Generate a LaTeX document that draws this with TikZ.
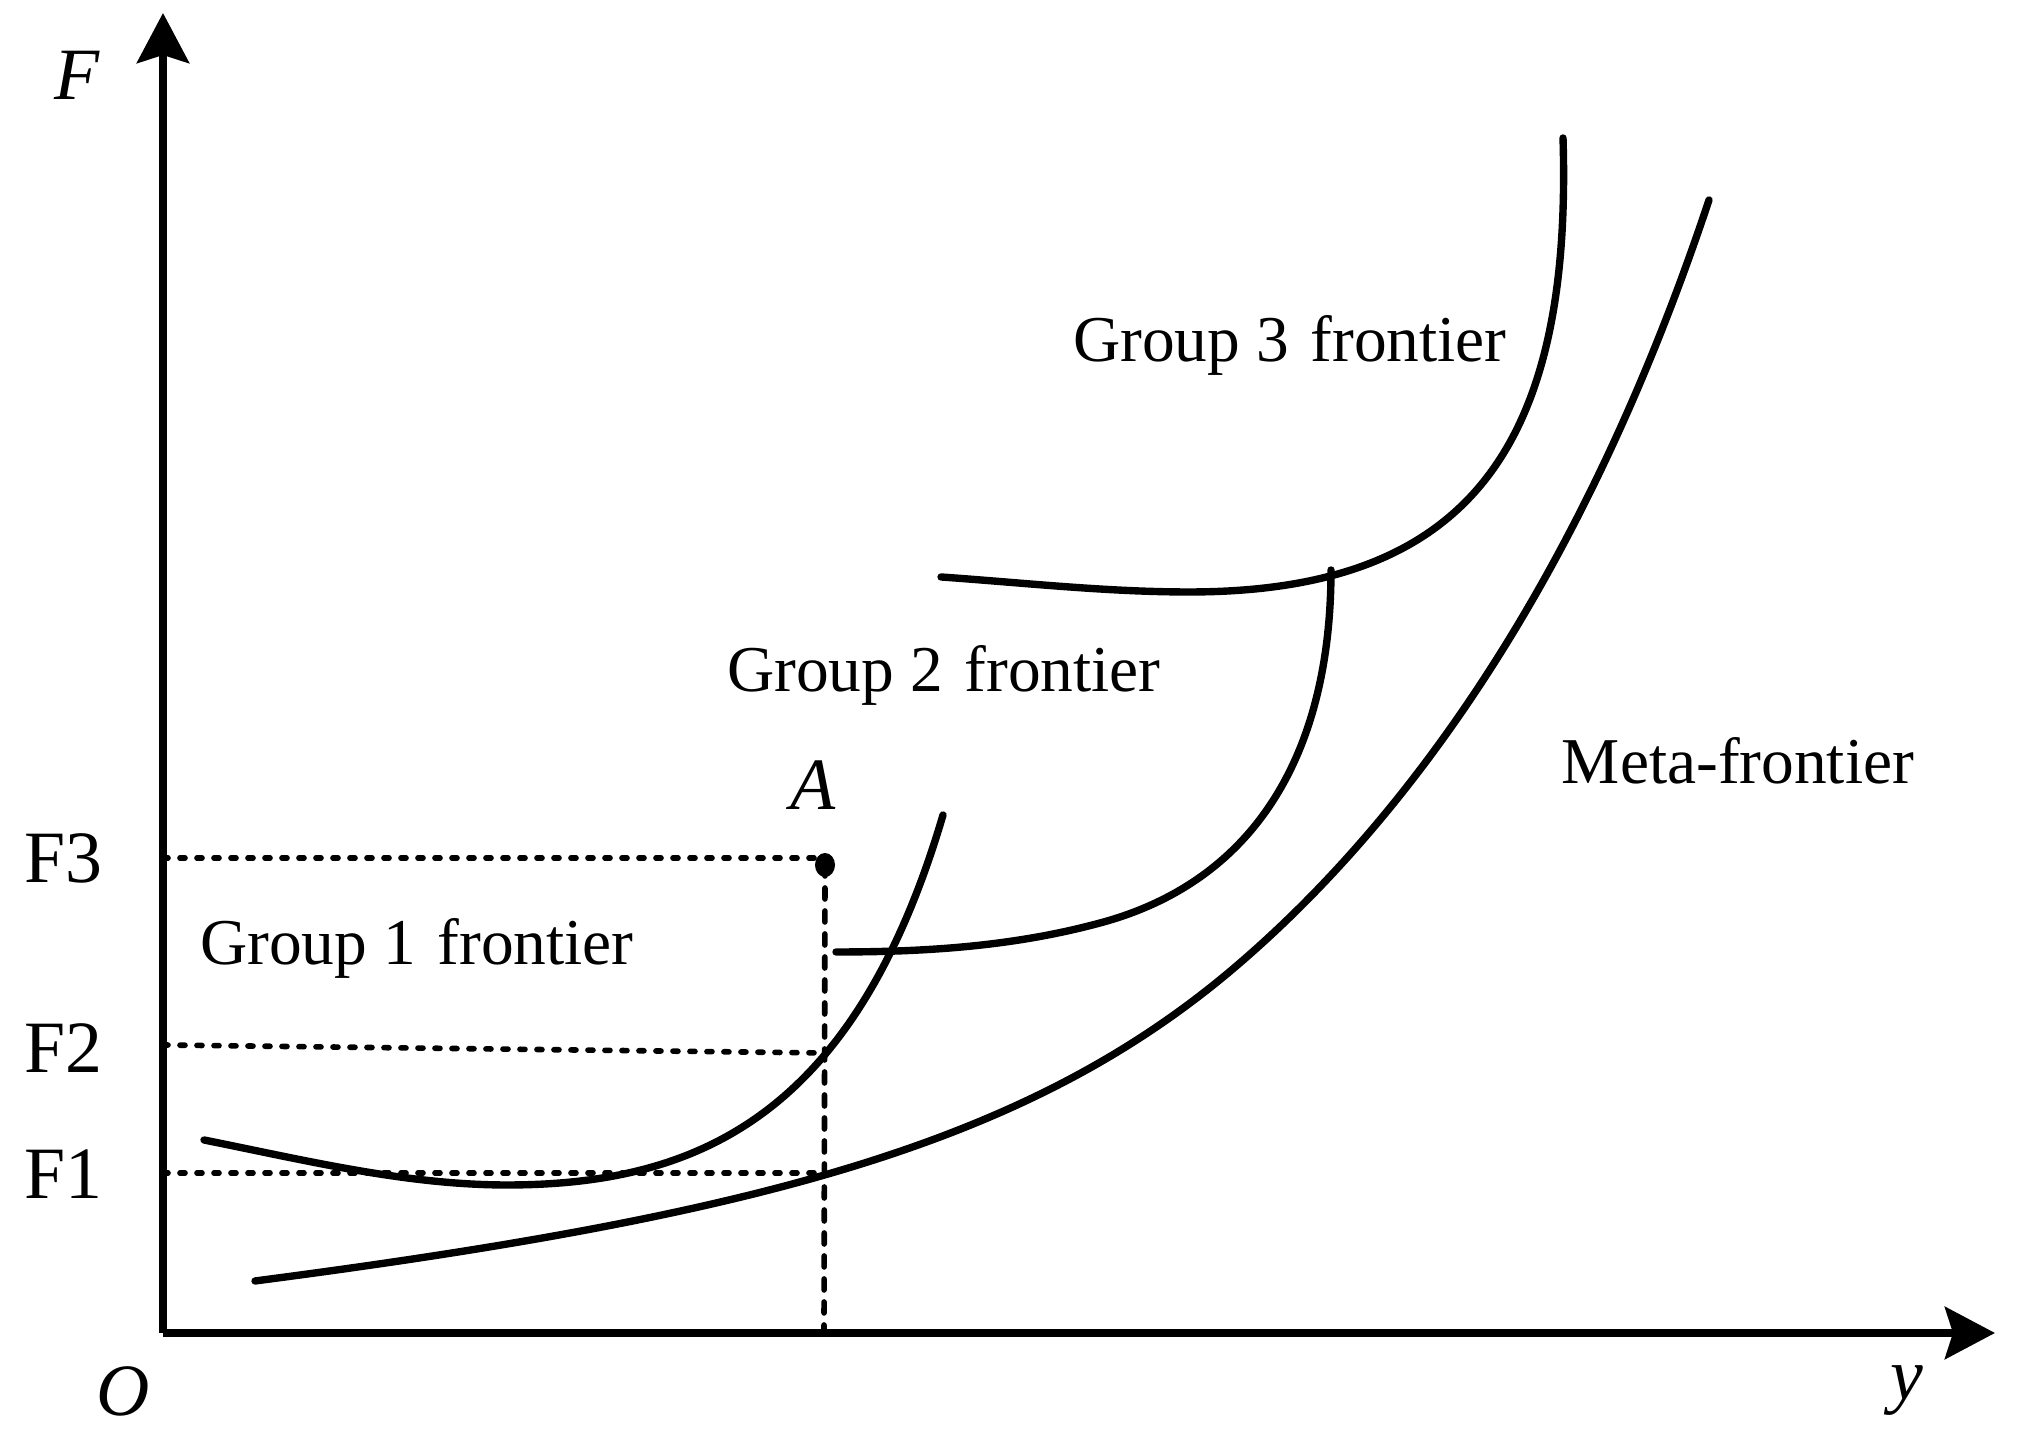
\documentclass[tikz,border=0pt]{standalone}
\usepackage{fontspec}
\setmainfont{Liberation Serif}
\usetikzlibrary{arrows.meta}
\begin{document}
\begin{tikzpicture}[
  axis/.style={line width=2.3pt, -{Stealth[length=0.5cm,width=0.52cm,inset=0.08cm]}},
  curve/.style={line width=2.1pt, line cap=round},
  dotline/.style={line width=1.6pt, line cap=round, dash pattern=on 0.05cm off 0.12cm},
  dashline/.style={line width=1.6pt, line cap=round, dash pattern=on 0.11cm off 0.12cm},
  lbl/.style={font=\fontsize{18.6}{22}\selectfont, inner sep=0pt},
  flbl/.style={font=\fontsize{21}{24}\selectfont, inner sep=0pt},
  ilbl/.style={font=\fontsize{21}{24}\selectfont\itshape, inner sep=0pt}
]
\useasboundingbox (0,0) rectangle (20.23,14.44);
% axes
\coordinate (O) at (1.63,1.11);
\coordinate (ytip) at (19.95,1.11);
\coordinate (Ftip) at (1.63,14.31);
\draw[axis] (O) -- (ytip);
\draw[axis] (O) -- (Ftip);
\node[ilbl] (Olbl) at (1.23,0.53) {O};
\node[ilbl] (ylbl) at (19.07,0.53) {y};
\node[ilbl] (Flbl) at (0.77,13.69) {F};
% point A and guide lines
\coordinate (A) at (8.25,5.79);
\coordinate (F3a) at (1.63,5.86);
\coordinate (F3b) at (8.20,5.86);
\coordinate (F2a) at (1.63,3.99);
\coordinate (F2b) at (8.24,3.91);
\coordinate (F1a) at (1.63,2.71);
\coordinate (F1b) at (8.24,2.71);
\coordinate (Ax) at (8.24,1.11);
\draw[dotline] (F3a) -- (F3b);
\draw[dotline] (F2a) -- (F2b);
\draw[dotline] (F1a) -- (F1b);
\draw[dashline] (A) -- (Ax);
\fill (A) ellipse (0.1cm and 0.12cm);
\node[ilbl] (Albl) at (8.13,6.59) {A};
\node[flbl] (F3lbl) at (0.63,5.86) {F3};
\node[flbl] (F2lbl) at (0.63,3.96) {F2};
\node[flbl] (F1lbl) at (0.63,2.70) {F1};
% meta-frontier
\draw[curve] (2.55,1.63) .. controls (7.597,2.288) and (10.276,3.008) .. (12.34,4.76)
  .. controls (13.87,6.06) and (15.738,8.376) .. (17.09,12.44);
% group 1
\draw[curve] (2.04,3.04) .. controls (3.05,2.838) and (4.06,2.59) .. (5.07,2.59)
  .. controls (7.03,2.59) and (8.558,3.33) .. (9.43,6.29);
% group 2
\draw[curve] (8.36,4.92) .. controls (9.24,4.92) and (10.12,4.972) .. (11.00,5.21)
  .. controls (12.617,5.644) and (13.31,6.994) .. (13.31,8.74);
% group 3
\draw[curve] (9.41,8.67) .. controls (10.237,8.612) and (11.063,8.52) .. (11.89,8.52)
  .. controls (14.606,8.52) and (15.728,9.882) .. (15.63,13.06);
% labels
\node[lbl] (g3) at (12.90,10.99) {Group 3\hspace{0.05cm} frontier};
\node[lbl] (g2) at (9.44,7.69) {Group 2\hspace{0.05cm} frontier};
\node[lbl] (g1) at (4.17,4.96) {Group 1\hspace{0.05cm} frontier};
\node[lbl] (meta) at (17.38,6.83) {Meta-frontier};
\end{tikzpicture}
\end{document}
